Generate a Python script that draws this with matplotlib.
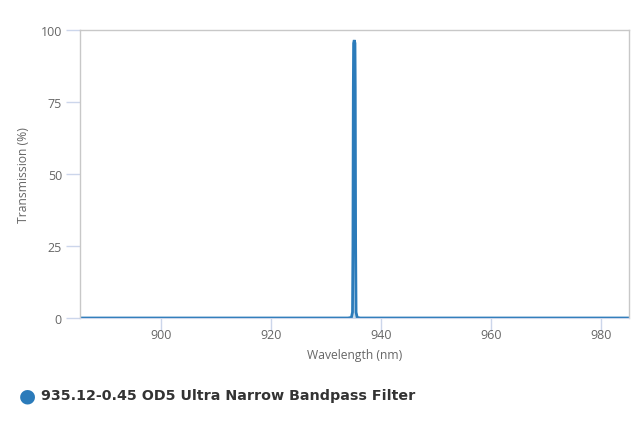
import matplotlib
matplotlib.use("Agg")
import matplotlib.pyplot as plt

wavelength = [885.0, 934.0, 934.6, 934.8, 934.88, 934.95, 935.0, 935.12, 935.25, 935.3, 935.37, 935.45, 935.65, 936.2, 985.0]
transmission = [0.0, 0.0, 0.2, 2.0, 25.0, 80.0, 95.5, 96.6, 95.5, 80.0, 25.0, 2.0, 0.2, 0.0, 0.0]
x_ticks = [900, 920, 940, 960, 980]
y_ticks = [0, 25, 50, 75, 100]
series_name = "935.12-0.45 OD5 Ultra Narrow Bandpass Filter"

color = "#2b7bba"
fig = plt.figure(figsize=(6.4, 4.27), dpi=100)
ax = fig.add_axes([0.125, 0.2529, 0.858, 0.6738])
ax.fill_between(wavelength, transmission, 0, color=color, alpha=0.25, linewidth=0)
ax.plot(wavelength, transmission, color=color, linewidth=2, solid_joinstyle="miter")
ax.set_xlim(885.2, 985.15)
ax.set_ylim(0, 100)
ax.set_xticks(x_ticks)
ax.set_yticks(y_ticks)

for s in ["top", "right", "left"]:
    ax.spines[s].set_color("#c8c8c8")
    ax.spines[s].set_linewidth(1)
ax.spines["bottom"].set_color("#ccd6eb")
ax.tick_params(axis="y", length=10, width=1, color="#ccd6eb", labelcolor="#666666", labelsize=9, pad=3)
ax.tick_params(axis="x", length=9, width=1, color="#ccd6eb", labelcolor="#666666", labelsize=9, pad=-1.5)
for lbl in ax.get_xticklabels() + ax.get_yticklabels():
    lbl.set_family("Open Sans")
ax.set_xlabel("Wavelength (nm)", fontsize=8.7, color="#666666", family="Open Sans")
ax.set_ylabel("Transmission (%)", fontsize=8.7, color="#666666", family="Open Sans")
ax.yaxis.set_label_coords((24 - 80) / 549, 0.5)
ax.xaxis.set_label_coords(0.5, -(355 - 319) / 287.7)
ax.xaxis.label.set_va("center")
ax.yaxis.label.set_va("center")

fig.text(27 / 640, 1 - 396 / 427, "\u25cf", fontsize=14, color=color, ha="center", va="center")
fig.text(41 / 640, 1 - 396.5 / 427, series_name, fontsize=10.3, fontweight="bold", color="#333333",
         family="DejaVu Sans", ha="left", va="center")

fig.savefig("out.png", dpi=100)
